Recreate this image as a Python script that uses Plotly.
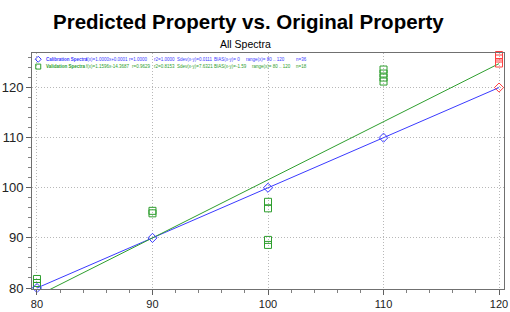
import plotly.graph_objects as go

# ---- data ----
cal_x = [80, 90, 100, 110, 120]
cal_y = [80, 90, 100, 110, 120]
val_x = [80, 80, 80, 90, 90, 100, 100, 100, 100, 110, 110, 110, 110, 120, 120, 120]
val_y = [81.8, 81.0, 80.4, 95.4, 94.9, 97.2, 95.9, 89.6, 88.6, 123.6, 122.8, 122.0, 121.2, 126.5, 125.8, 124.8]
highlight_x = [120]  # samples drawn in red

cal_fit = (1.0000, 0.0001)
val_fit = (1.1596, -14.3687)
fit_range = [80, 120]

x_ticks = [80, 90, 100, 110, 120]
y_ticks = [80, 90, 100, 110, 120]

cal_stats = ["Calibration Spectra", "f(x)=1.0000x+0.0001", "r=1.0000", "r2=1.0000",
             "Sdev(x-y)=0.0111", "BIAS(x-y)= 0", "range(x)= 80 .. 120", "n=36"]
val_stats = ["Validation Spectra", "f(x)=1.1596x-14.3687", "r=0.9629", "r2=0.8153",
             "Sdev(x-y)=7.6321", "BIAS(x-y)=-1.59", "range(x)= 80 .. 120", "n=18"]

BLUE = "#3a3aff"
GREEN = "#2e9e2e"
RED = "#ff4040"
SANS = "Liberation Sans, Arial, sans-serif"

W, H = 510, 312
L, R, T, B = 32, 2, 53, 21
PW, PH = W - L - R, H - T - B


def px2x(px):
    return (px - L) / PW


def px2y(py):
    return (H - B - py) / PH


fig = go.Figure()

# regression lines
for (m, c), col in [(cal_fit, BLUE), (val_fit, GREEN)]:
    fig.add_trace(go.Scatter(x=fit_range, y=[m * v + c for v in fit_range], mode="lines",
                             line=dict(color=col, width=1), showlegend=False, hoverinfo="skip"))

# points
fig.add_trace(go.Scatter(
    x=val_x, y=val_y, mode="markers", showlegend=False, cliponaxis=False,
    marker=dict(symbol="square-open", size=7,
                color=[RED if xv in highlight_x else GREEN for xv in val_x], line=dict(width=1))))
fig.add_trace(go.Scatter(
    x=cal_x, y=cal_y, mode="markers", showlegend=False, cliponaxis=False,
    marker=dict(symbol="diamond-open", size=7,
                color=[RED if xv in highlight_x else BLUE for xv in cal_x], line=dict(width=1))))

annotations = []
# title & subtitle
annotations.append(dict(text="<b>Predicted Property vs. Original Property</b>", x=px2x(52), y=px2y(21),
                        xref="paper", yref="paper", xanchor="left", yanchor="middle", showarrow=False,
                        borderpad=0, font=dict(family=SANS, size=20.5, color="black")))
annotations.append(dict(text="All Spectra", x=px2x(247), y=px2y(44),
                        xref="paper", yref="paper", xanchor="center", yanchor="middle", showarrow=False,
                        font=dict(family=SANS, size=10.5, color="black")))

# legend text columns
col_px = [[45, 85, 129, 154, 177, 215, 247, 297],
          [45, 85, 132, 154, 177, 215, 253, 297]]
for row, (stats, col, ypx) in enumerate([(cal_stats, BLUE, 59.5), (val_stats, GREEN, 66.5)]):
    for i, s in enumerate(stats):
        txt = f"<b>{s}</b>" if i == 0 else s
        annotations.append(dict(text=txt, x=px2x(col_px[row][i]), y=px2y(ypx), xref="paper", yref="paper",
                                xanchor="left", yanchor="middle", showarrow=False, borderpad=0,
                                font=dict(family=SANS, size=4.5, color=col)))

shapes = [
    dict(type="path", xref="paper", yref="paper", xsizemode="pixel", ysizemode="pixel",
         xanchor=px2x(38.3), yanchor=px2y(59.3), path="M 0,3 L 3,0 L 0,-3 L -3,0 Z",
         line=dict(color=BLUE, width=1)),
    dict(type="rect", xref="paper", yref="paper", xsizemode="pixel", ysizemode="pixel",
         xanchor=px2x(38.3), yanchor=px2y(66.7), x0=-2.5, x1=2.5, y0=-2.5, y1=2.5,
         line=dict(color=GREEN, width=1)),
]

axis_common = dict(showgrid=True, gridcolor="#b8b8b8", griddash="1px,2px", gridwidth=1,
                   showline=True, linecolor="#707070", linewidth=1, mirror=True,
                   ticks="outside", ticklen=5, tickcolor="#606060", zeroline=False,
                   ticklabeloverflow="allow",
                   minor=dict(dtick=2, ticks="outside", ticklen=3, tickcolor="#808080", showgrid=False))

fig.update_layout(
    width=W, height=H, margin=dict(l=L, r=R, t=T, b=B),
    paper_bgcolor="white", plot_bgcolor="white",
    showlegend=False, hovermode=False,
    xaxis=dict(range=[79.57, 120.43], tickvals=x_ticks, ticktext=[str(v) for v in x_ticks],
               tickfont=dict(family=SANS, size=11, color="#222"), **axis_common),
    yaxis=dict(range=[79.8, 126.9], tickvals=y_ticks, ticktext=[str(v) for v in y_ticks],
               tickfont=dict(family=SANS, size=13, color="#222"), **axis_common),
    annotations=annotations, shapes=shapes,
)

fig.write_html("out.html", config={"displayModeBar": False, "staticPlot": True},
               post_script="document.body.style.margin='0';document.body.style.overflow='hidden';")
